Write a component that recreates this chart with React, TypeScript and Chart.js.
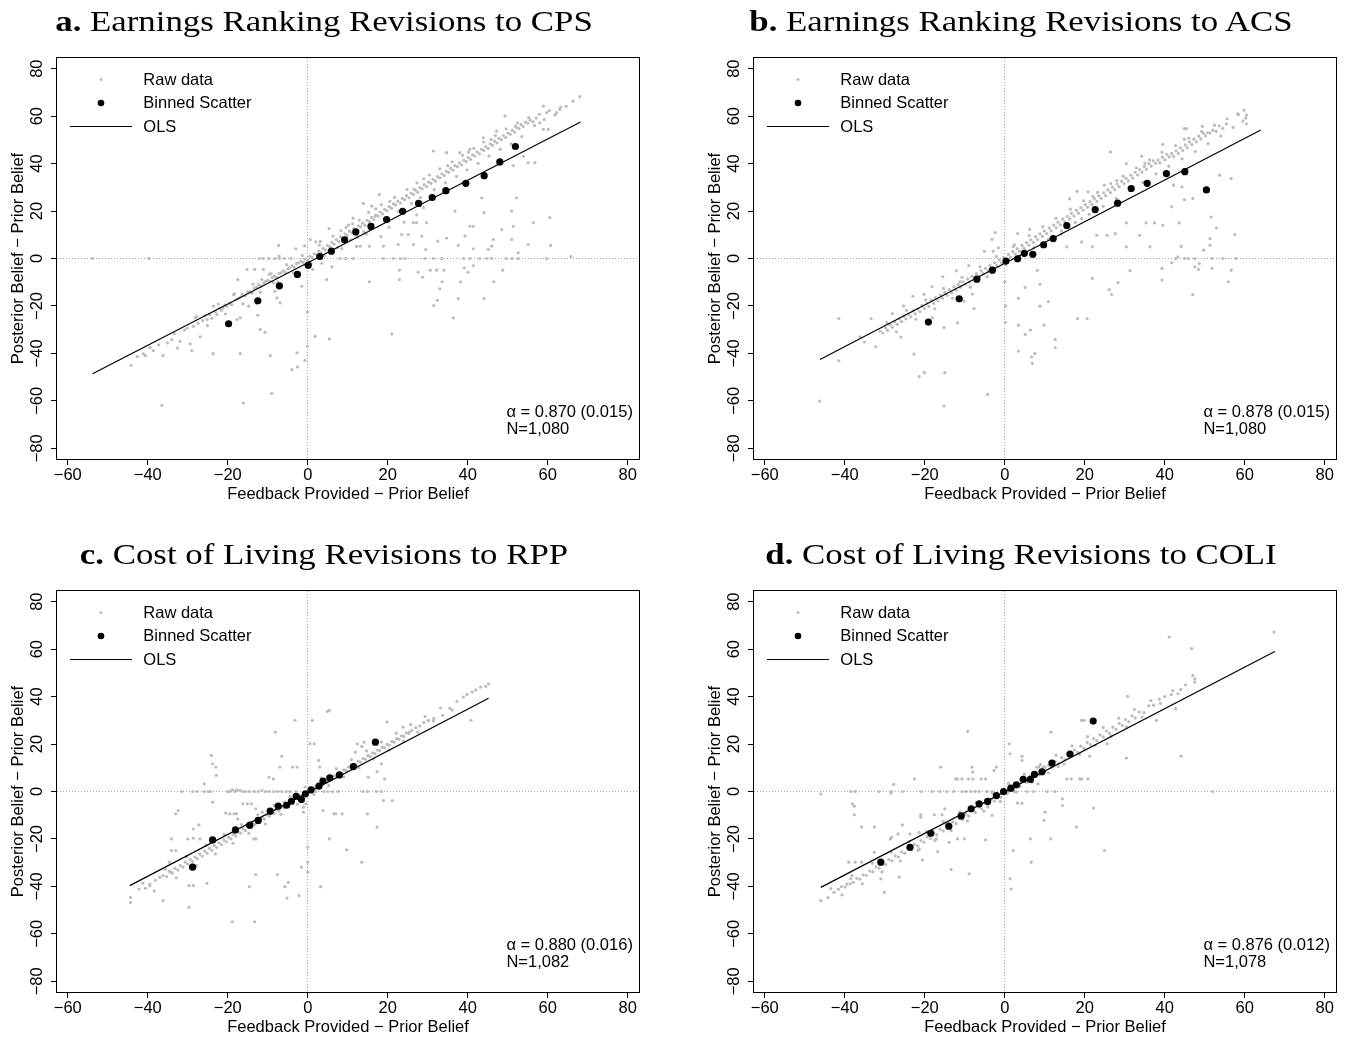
import React, { useEffect, useRef } from "react";
import { Chart, registerables } from "chart.js";

Chart.register(...registerables);

type Pt = [number, number];

// Axis ranges and tick positions (shared by all four panels)
const X_MIN = -62.7;
const X_MAX = 82.8;
const Y_MIN = -84.5;
const Y_MAX = 84.5;
const xTicks = [-60, -40, -20, 0, 20, 40, 60, 80];
const yTicks = [-80, -60, -40, -20, 0, 20, 40, 60, 80];

const xTitle = "Feedback Provided \u2212 Prior Belief";
const yTitle = "Posterior Belief \u2212 Prior Belief";
const legendLabels = ["Raw data", "Binned Scatter", "OLS"];

const panelLetters = ["a.", "b.", "c.", "d."];
const panelTitles = [
  "Earnings Ranking Revisions to CPS",
  "Earnings Ranking Revisions to ACS",
  "Cost of Living Revisions to RPP",
  "Cost of Living Revisions to COLI",
];
const alphas = [0.87, 0.878, 0.88, 0.876];
const alphaSE = ["0.015", "0.015", "0.016", "0.012"];
const sampleN = ["1,080", "1,080", "1,082", "1,078"];
const olsIntercepts = [-1.8, -2.0, -0.5, -0.1];
const olsXA = [-53.8, 68.2];
const olsXB = [-46.2, 64.0];
const olsXC = [-44.5, 45.2];
const olsXD = [-46.0, 67.5];

// ---- Panel a: earnings ranking, CPS ----
const binA: Pt[] = [
  [-19.8, -27.5], [-12.5, -17.8], [-7.1, -11.5], [-2.6, -6.7], [0.1, -2.8], [3.0, 0.8],
  [5.9, 3.1], [9.2, 7.9], [12.0, 11.2], [15.8, 13.5], [19.7, 16.4], [23.7, 19.9],
  [27.7, 23.2], [31.1, 25.7], [34.5, 28.6], [39.5, 31.7], [44.1, 34.9], [48.0, 40.7], [51.9, 47.2],
];
const rawA: Pt[] = [
  [-44.2, -45.1], [-42.6, -41.3], [-41.1, -40.2], [-40.6, -40.9], [-39.4, -37.6], [-38.6, -38.8], [-37.3, -36.4],
  [-36.2, -40.9], [-35.1, -35.6], [-34.0, -34.2], [-33.4, -31.7], [-32.6, -37.8], [-31.9, -34.9], [-30.8, -30.1],
  [-30.1, -29.3], [-29.4, -36.0], [-29.0, -38.8], [-28.6, -28.6], [-28.2, -25.0], [-27.4, -27.3], [-26.9, -33.0],
  [-26.3, -26.2], [-25.7, -24.1], [-25.2, -25.7], [-24.5, -23.6], [-24.0, -25.2], [-23.6, -20.1], [-23.1, -22.5],
  [-22.7, -23.6], [-22.1, -21.0], [-21.6, -21.9], [-21.2, -20.8], [-20.7, -19.6], [-20.2, -20.1], [-19.5, -18.9],
  [-19.0, -19.4], [-18.6, -15.2], [-18.0, -17.4], [-17.4, -16.9], [-16.8, -16.2], [-16.4, -15.0], [-15.7, -15.8],
  [-15.1, -14.1], [-14.5, -13.9], [-13.9, -14.6], [-13.4, -12.5], [-12.8, -12.2], [-12.3, -11.0], [-11.7, -11.7],
  [-11.0, -10.3], [-10.5, -9.6], [-10.0, -9.2], [-9.4, -9.7], [-8.9, -8.0], [-8.3, -7.4], [-7.8, -8.1], [-7.2, -6.4],
  [-6.7, -6.0], [-6.1, -5.2], [-5.6, -5.9], [-5.0, -4.4], [-4.5, -3.9], [-3.9, -3.1], [-3.4, -3.7], [-2.8, -2.2],
  [-2.3, -1.8], [-1.7, -1.1], [-1.2, -1.6], [-0.6, -0.3], [0.1, -0.7], [0.5, 0.9], [1.1, 0.4], [1.6, 2.0], [2.2, 1.5],
  [2.7, 3.1], [3.3, 2.4], [3.8, 4.3], [4.4, 3.6], [4.9, 5.5], [5.5, 5.0], [6.0, 6.8], [6.6, 6.1], [7.1, 8.0],
  [7.7, 7.2], [8.2, 9.1], [8.8, 8.5], [9.3, 10.4], [9.9, 9.6], [10.4, 11.5], [11.0, 10.8], [11.5, 12.6], [12.1, 12.0],
  [12.6, 13.8], [13.2, 13.3], [13.7, 14.9], [14.3, 14.0], [14.8, 16.1], [15.4, 15.5], [15.9, 17.3], [16.5, 16.4],
  [17.0, 18.3], [17.6, 17.9], [18.1, 19.6], [18.7, 18.8], [19.2, 20.7], [19.8, 20.1], [20.3, 21.9], [20.9, 21.2],
  [21.4, 23.0], [22.0, 22.6], [22.5, 24.2], [23.1, 23.4], [23.6, 25.3], [24.2, 24.8], [24.7, 26.5], [25.3, 25.6],
  [25.8, 27.6], [26.4, 27.0], [26.9, 28.8], [27.5, 27.9], [28.0, 29.9], [28.6, 29.4], [29.1, 31.1], [29.7, 30.3],
  [30.2, 32.2], [30.8, 31.7], [31.3, 33.4], [31.9, 32.6], [32.4, 34.5], [33.0, 34.0], [33.5, 35.7], [34.1, 34.9],
  [34.6, 36.8], [35.2, 36.3], [35.7, 38.0], [36.3, 37.2], [36.8, 39.1], [37.4, 38.7], [37.9, 40.3], [38.5, 39.5],
  [39.0, 41.4], [39.6, 40.9], [40.1, 42.6], [40.7, 41.8], [41.2, 43.7], [41.8, 43.2], [42.3, 44.9], [42.9, 44.1],
  [43.4, 46.0], [44.0, 45.5], [44.5, 47.2], [45.1, 46.4], [45.6, 48.3], [46.2, 47.8], [46.7, 49.5], [47.3, 48.7],
  [47.8, 50.6], [48.4, 50.1], [48.9, 51.8], [49.5, 51.0], [50.0, 52.9], [50.6, 52.4], [51.1, 54.1], [51.7, 53.3],
  [52.2, 55.2], [52.8, 54.7], [53.3, 56.4], [53.9, 55.6], [54.4, 57.5], [55.0, 57.0], [55.6, 58.3], [56.3, 57.6],
  [57.1, 59.2],
  [-27.8, -24.6], [-25.1, -28.3], [-22.4, -19.2], [-20.6, -23.4], [-18.3, -14.9], [-16.2, -19.1], [-13.7, -10.8],
  [-11.9, -14.2], [-9.2, -6.4], [-7.5, -9.9], [-5.3, -2.6], [-3.6, -6.1], [-1.4, 1.3], [0.8, -2.2], [2.9, 5.6],
  [4.1, 1.2], [6.3, 9.4], [7.4, 4.6], [9.6, 13.1], [10.7, 7.9], [12.9, 16.2], [14.0, 11.3], [15.2, 19.4], [16.1, 13.9],
  [18.4, 22.7], [19.3, 16.6], [21.7, 25.8], [22.6, 19.8], [24.8, 29.1], [25.9, 23.2], [27.3, 31.9], [28.2, 25.7],
  [30.4, 35.2], [31.6, 29.0], [33.0, 37.8], [34.4, 31.9], [36.1, 40.7], [37.2, 34.6], [38.7, 43.5], [39.8, 37.4],
  [41.5, 46.4], [42.6, 40.1], [44.0, 49.1], [45.3, 43.2], [46.9, 51.8], [48.1, 46.0], [49.6, 54.6], [50.8, 48.3],
  [52.4, 57.1], [53.5, 51.4], [55.2, 59.4], [56.7, 56.0], [57.9, 60.8], [59.1, 58.6], [60.4, 62.3], [61.8, 60.5],
  [63.2, 63.7], [64.6, 64.1], [26.5, 29.3], [29.0, 33.6], [35.0, 39.1], [40.2, 44.8], [45.8, 50.2], [51.9, 55.8],
  [20.5, 24.1], [17.0, 20.9], [8.3, 11.8], [11.2, 14.6],
  [-53.8, 0], [-39.8, 0], [-36.5, -61.9], [-23.7, -40.1], [-17.7, -25.7], [-16.9, -25.0], [-16.9, -40.1],
  [-16.1, -60.9], [-15.2, -4.6], [-13.3, -4.6], [-17.5, -8.9], [-14.8, -20.1], [-12.7, -19.0], [-12.5, -23.9],
  [-11.9, -29.9], [-10.7, -31.1], [-11.1, -4.6], [-9.6, -6.7], [-11.5, -8.9], [-8.6, -10.2], [-9.4, -40.9],
  [-9.0, -56.9], [-7.3, 5.5], [-7.2, 1.0], [-8.2, -13.8], [-6.9, -18.7], [-7.7, -16.6], [-4.0, -46.8], [-2.6, -45.7],
  [-2.7, -39.8], [-1.5, -11.7], [-0.1, -22.6], [-0.1, -37.0], [-0.7, -42.9], [1.8, -32.8], [5.4, -33.9], [4.7, -8.9],
  [1.2, -4.6], [-12.2, 0], [-11.2, 0], [-9.8, 0], [-8.3, 0], [-7.1, 0], [-5.8, 0], [-4.2, 0], [0.6, 8.0], [-0.8, 5.3],
  [2.0, 7.0], [3.5, -2.0], [6.0, -3.5], [8.0, 0], [9.5, 0], [11.4, 0], [15.4, 5.2], [18.9, 5.2], [22.6, 5.9],
  [23.5, 10.1], [25.1, 10.1], [26.4, 5.9], [28.5, 9.4], [29.5, 3.8], [32.5, 7.3], [34.7, 8.6], [37.6, 5.5], [39.3, 9.4],
  [41.4, 4.1], [45.1, 3.8], [46.0, 5.2], [46.4, 8.0], [48.5, 12.2], [51.0, 8.0], [52.6, 2.4], [55.1, 5.9], [60.7, 5.5],
  [18.9, 0], [21.4, 0], [23.1, 0], [24.3, 0], [29.3, 0], [31.4, 0], [33.5, 0], [38.9, 0], [40.5, 0], [43.0, 0],
  [44.7, 0], [46.0, 0], [49.7, 0], [51.0, 0], [52.6, 0], [59.7, 0], [65.8, 0.8],
  [15.4, -9.8], [22.9, -4.9], [22.9, -8.9], [27.6, -5.8], [28.7, -7.9], [30.6, -4.9], [32.2, -4.9], [34.0, -4.9],
  [33.6, -9.8], [33.0, -12.8], [32.4, -17.6], [31.5, -19.8], [36.4, -25.0], [37.6, -16.9], [38.2, -9.8], [40.1, -5.8],
  [39.1, -3.9], [41.4, -3.0], [44.1, -16.9], [46.5, -9.8], [48.7, -4.9], [21.0, -31.8],
  [51.0, 20.0], [51.4, 13.6], [52.2, 25.6], [56.4, 15.1], [60.5, 17.2], [44.1, 19.3], [43.5, 25.6], [41.4, 13.6],
  [40.5, 13.6], [36.8, 20.0], [29.7, 15.1], [28.9, 21.4], [27.2, 15.1], [26.4, 15.1], [17.9, 27.0], [13.9, 23.2],
  [16.0, 22.1], [16.8, 17.8], [31.4, 45.3], [34.7, 44.6], [38.0, 44.6], [40.5, 46.0], [43.9, 50.9], [47.2, 53.7],
  [49.3, 60.0], [53.9, 43.1], [55.1, 40.4], [56.8, 40.4], [51.4, 39.2], [58.9, 64.2], [59.7, 61.5], [62.2, 61.5],
  [63.0, 62.8], [66.3, 66.3], [68.0, 68.2], [58.9, 54.4], [60.1, 54.4], [58.0, 57.2], [10.2, 14.1], [11.3, 17.0],
  [12.4, 9.0], [13.1, 5.2], [5.3, 12.6], [3.1, 7.2], [-3.0, 4.1], [20.3, 13.2], [24.1, 15.3], [27.2, 18.4],
  [12.2, 5.1], [18.3, 9.2], [35.2, 28.1], [19.5, 17.0], [14.6, 10.3], [8.5, 4.2],
];

// ---- Panel b: earnings ranking, ACS ----
const binB: Pt[] = [
  [-19.1, -26.8], [-11.4, -17.0], [-7.0, -8.7], [-3.1, -4.9], [0.3, -1.1], [3.2, -0.1], [4.9, 2.2], [7.0, 1.8],
  [9.7, 5.8], [12.1, 8.4], [15.5, 13.9], [22.6, 20.6], [28.2, 23.3], [31.6, 29.5], [35.6, 31.7], [40.4, 35.8],
  [45.0, 36.6], [50.4, 28.9],
];
const rawB: Pt[] = [
  [-31.2, -30.6], [-30.5, -31.4], [-29.8, -29.2], [-29.3, -30.3], [-28.7, -27.9], [-28.1, -29.0], [-27.5, -26.8],
  [-26.9, -27.7], [-26.4, -25.5], [-25.8, -26.6], [-25.2, -24.3], [-24.7, -25.5], [-24.1, -23.4], [-23.5, -24.6],
  [-22.9, -22.1], [-22.4, -23.3], [-21.8, -21.2], [-21.2, -22.4], [-20.7, -19.9], [-20.1, -21.1], [-19.5, -18.8],
  [-19.0, -20.2], [-18.4, -17.6], [-17.8, -18.9], [-17.3, -16.5], [-16.7, -17.8], [-16.1, -15.4], [-15.6, -16.7],
  [-15.0, -14.3], [-14.4, -15.5], [-13.9, -13.1], [-13.3, -14.4], [-12.7, -12.0], [-12.2, -13.3], [-11.6, -10.9],
  [-11.0, -12.1], [-10.5, -9.8], [-9.9, -11.0], [-9.3, -8.6], [-8.8, -9.9], [-8.2, -7.5], [-7.6, -8.7], [-7.1, -6.4],
  [-6.5, -7.6], [-5.9, -5.2], [-5.4, -6.4], [-4.8, -4.1], [-4.2, -5.3], [-3.7, -2.9], [-3.1, -4.1], [-2.5, -1.8],
  [-2.0, -3.0], [-1.4, -0.6], [-0.8, -1.8], [-0.3, 0.5], [0.3, -0.6], [0.9, 1.7], [1.4, 0.6], [2.0, 3.0], [2.6, 1.9],
  [3.1, 4.2], [3.7, 3.1], [4.3, 5.5], [4.8, 4.3], [5.4, 6.7], [6.0, 5.6], [6.5, 7.9], [7.1, 6.8], [7.7, 9.2],
  [8.2, 8.0], [8.8, 10.4], [9.4, 9.3], [9.9, 11.6], [10.5, 10.5], [11.1, 12.9], [11.6, 11.7], [12.2, 14.1],
  [12.8, 13.0], [13.3, 15.3], [13.9, 14.2], [14.5, 16.6], [15.0, 15.4], [15.6, 17.8], [16.2, 16.7], [16.7, 19.0],
  [17.3, 17.9], [17.9, 20.3], [18.4, 19.1], [19.0, 21.5], [19.6, 20.4], [20.1, 22.7], [20.7, 21.6], [21.3, 24.0],
  [21.8, 22.8], [22.4, 25.2], [23.0, 24.1], [23.5, 26.4], [24.1, 25.3], [24.7, 27.7], [25.2, 26.5], [25.8, 28.9],
  [26.4, 27.8], [26.9, 30.1], [27.5, 29.0], [28.1, 31.4], [28.6, 30.2], [29.2, 32.6], [29.8, 31.5], [30.3, 33.8],
  [30.9, 32.7], [31.5, 35.1], [32.0, 33.9], [32.6, 36.3], [33.2, 35.2], [33.7, 37.5], [34.3, 36.4], [34.9, 38.8],
  [35.4, 37.6], [36.0, 40.0], [36.6, 38.9], [37.1, 41.2], [37.7, 40.1], [38.3, 41.5], [38.8, 40.3], [39.4, 42.7],
  [40.0, 41.6], [40.5, 43.9], [41.1, 42.8], [41.7, 44.2], [42.2, 43.0], [42.8, 45.4], [43.4, 44.3], [43.9, 46.6],
  [44.5, 45.5], [45.1, 47.9], [45.6, 46.7], [46.2, 49.1], [46.8, 48.0], [47.3, 50.3], [47.9, 49.2], [48.5, 51.6],
  [49.0, 50.4], [49.6, 52.8], [50.2, 51.7], [50.7, 53.0], [51.3, 52.9], [52.0, 54.1], [52.8, 53.6], [53.6, 55.9],
  [54.5, 54.8], [55.4, 56.7],
  [-29.5, -27.0], [-27.1, -30.9], [-24.6, -21.9], [-22.2, -25.6], [-19.8, -17.4], [-17.5, -21.2], [-15.3, -12.6],
  [-13.1, -16.8], [-10.7, -7.9], [-8.6, -12.1], [-6.2, -3.5], [-4.4, -7.6], [-2.1, 0.9], [0.2, -2.6], [2.4, 5.8],
  [3.8, 1.1], [6.1, 9.7], [7.3, 4.5], [9.5, 13.4], [10.9, 8.1], [12.8, 16.9], [14.2, 11.6], [16.4, 20.8], [17.6, 15.2],
  [19.7, 24.3], [21.1, 18.6], [23.2, 27.9], [24.6, 22.0], [26.5, 31.6], [27.9, 25.3], [29.6, 34.7], [31.2, 28.9],
  [32.9, 38.2], [34.5, 32.1], [36.2, 41.6], [37.8, 35.7], [39.3, 44.8], [41.0, 38.9], [42.7, 47.6], [44.3, 42.0],
  [46.0, 50.7], [47.6, 45.1], [49.2, 53.6], [50.8, 48.4], [52.4, 56.2], [54.0, 51.6], [55.6, 58.9], [57.1, 55.3],
  [58.4, 60.6], [59.5, 57.9], [60.2, 59.1], [22.0, 26.2], [28.0, 32.8], [35.0, 40.2], [44.9, 50.3],
  [-46.3, -60.1], [-41.5, -25.3], [-41.5, -43.1], [-33.4, -25.3], [-32.3, -37.2], [-28.1, -23.2], [-23.0, -15.9],
  [-22.7, -40.3], [-21.4, -49.8], [-20.1, -48.1], [-18.2, -11.9], [-15.5, -7.7], [-15.2, -29.1], [-15.0, -48.1],
  [-15.2, -62.2], [-11.8, -27.1], [-11.2, -9.8], [-7.7, -21.1], [-6.4, -8.0], [-4.3, -57.3], [-2.9, 3.1],
  [-2.4, 10.9], [-1.6, 4.5], [0, -9.8], [0.2, -20.0], [0.1, -27.0], [3.2, 10.5], [3.4, -16.8], [3.4, -28.1],
  [3.4, -39.0], [5.1, -12.2], [5.1, -32.0], [6.4, -30.2], [6.7, -41.4], [6.9, -44.2], [7.5, -40.0], [8.8, -10.9],
  [8.8, -20.1], [9.8, -28.1], [10.9, -18.2], [12.6, -34.1], [12.6, -37.5], [18.2, -25.3], [20.6, -25.3], [21.9, -8.4],
  [26.1, -13.1], [26.7, -15.2], [28.3, -10.2], [31.3, -5.1], [39.3, -9.1], [39.3, -4.2], [41.7, -1.8], [42.7, 0],
  [43.3, 0.7], [44.9, 0], [45.9, 0], [47.5, 0], [48.6, -2.1], [51.8, 0], [54.5, 0], [57.7, 0], [47.0, -15.2],
  [47.5, -3.5], [48.4, -4.6], [49.7, 3.5], [51.3, 5.6], [51.3, 8.4], [51.8, -4.2], [52.9, 12.9], [55.9, -9.8],
  [56.6, -4.9], [57.5, 10.1], [30.4, 15.0], [35.3, 15.0], [37.4, 15.0], [39.5, 14.0], [43.6, 15.0], [44.1, 5.1],
  [25.6, 9.8], [27.6, 10.5], [30.4, 4.9], [33.7, 9.8], [21.9, 4.9], [23.0, 9.8], [15.5, 4.9], [19.2, 7.0], [36.3, 4.9],
  [41.7, 21.8], [44.9, 24.8], [47.0, 25.3], [51.6, 17.5], [53.7, 35.1], [56.6, 33.7], [42.2, 30.9], [44.3, 30.2],
  [44.9, 54.7], [45.4, 54.7], [49.4, 55.7], [58.2, 61.0], [59.8, 62.5], [60.4, 60.4], [60.4, 56.8], [39.5, 48.1],
  [26.4, 44.9], [30.4, 40.0], [34.2, 43.1], [24.9, 30.9], [20.8, 28.1], [19.2, 16.8], [-9.0, -3.0], [-12.1, -5.2],
  [-5.1, 3.0], [-3.2, 8.1], [2.1, 5.0], [6.2, 12.3], [10.1, 5.2], [12.2, 8.1], [14.1, 10.2], [16.2, 25.1],
  [18.1, 28.3], [8.1, -5.0], [-20.2, -15.1], [-25.3, -20.0], [-35.1, -35.2], [-36.2, -33.0], [-26.0, -33.1],
  [-18.1, -25.0], [-10.2, -18.0], [-8.1, -15.0],
];

// ---- Panel c: cost of living, RPP ----
const binC: Pt[] = [
  [-28.8, -31.9], [-23.8, -20.4], [-18.1, -16.2], [-14.5, -14.2], [-12.4, -12.2], [-9.4, -8.3], [-7.4, -6.2],
  [-5.3, -5.8], [-4.1, -4.1], [-2.9, -2.0], [-1.6, -3.4], [-0.6, -1.0], [0.8, 0.7], [2.8, 2.3], [3.8, 4.4],
  [5.5, 5.8], [7.9, 7.0], [11.4, 10.5], [16.9, 20.8],
];
const rawC: Pt[] = [
  [-44.3, -44.6], [-44.3, -46.7], [-42.2, -41.1], [-40.6, -40.8], [-39.5, -39.0], [-39.5, -39.7], [-38.1, -37.4],
  [-37.0, -36.2], [-36.2, -35.4], [-35.3, -35.9], [-34.6, -33.7], [-33.9, -34.5], [-33.2, -32.4], [-32.5, -33.1],
  [-31.9, -31.2], [-31.2, -31.9], [-30.6, -29.8], [-30.0, -30.6], [-29.4, -28.7], [-28.8, -29.5], [-28.2, -27.6],
  [-27.6, -28.4], [-27.0, -26.3], [-26.4, -27.2], [-25.8, -25.1], [-25.2, -26.0], [-24.6, -23.9], [-24.0, -24.8],
  [-23.4, -22.8], [-22.8, -23.6], [-22.2, -21.6], [-21.6, -22.4], [-21.0, -20.4], [-20.4, -21.2], [-19.8, -19.3],
  [-19.2, -20.0], [-18.6, -18.1], [-18.0, -18.8], [-17.4, -16.9], [-16.8, -17.6], [-16.2, -15.8], [-15.6, -16.4],
  [-15.0, -14.6], [-14.4, -15.2], [-13.8, -13.4], [-13.2, -14.0], [-12.6, -12.2], [-12.0, -12.8], [-11.4, -11.1],
  [-10.8, -11.6], [-10.2, -9.9], [-9.6, -10.4], [-9.0, -8.7], [-8.4, -9.2], [-7.8, -7.6], [-7.2, -8.0], [-6.6, -6.4],
  [-6.0, -6.8], [-5.4, -5.2], [-4.8, -5.6], [-4.2, -4.1], [-3.6, -4.4], [-3.0, -2.9], [-2.4, -3.2], [-1.8, -1.7],
  [-1.2, -2.0], [-0.6, -0.5], [0.0, -0.8], [0.6, 0.7], [1.2, 0.4], [1.8, 1.9], [2.4, 1.6], [3.0, 3.1], [3.6, 2.8],
  [4.2, 4.3], [4.8, 4.0], [5.4, 5.5], [6.0, 5.2], [6.6, 6.7], [7.2, 6.4], [7.8, 7.9], [8.4, 7.6], [9.0, 9.1],
  [9.6, 8.8], [10.2, 10.3], [10.8, 10.0], [11.4, 11.5], [12.0, 11.2], [12.6, 12.7], [13.2, 12.4], [13.8, 13.9],
  [14.4, 13.6], [15.0, 15.1], [15.6, 14.8], [16.2, 16.3], [16.8, 16.0], [17.4, 17.5], [18.0, 17.2], [18.6, 18.7],
  [19.2, 18.4], [19.8, 19.9], [20.4, 19.6], [21.0, 21.1], [21.6, 20.8], [22.2, 22.3], [22.8, 22.0], [23.4, 23.5],
  [24.0, 23.2], [24.6, 24.7], [25.2, 24.4], [26.0, 25.8], [27.0, 26.9], [28.0, 27.6], [29.0, 29.1], [30.1, 30.0],
  [31.5, 30.8], [33.7, 32.1], [35.5, 35.0], [37.3, 38.0], [38.9, 39.8], [41.1, 41.9], [43.2, 44.0], [45.2, 45.4],
  [-41.3, -38.7], [-38.4, -41.9], [-35.6, -32.8], [-32.9, -36.4], [-30.3, -27.5], [-27.8, -31.2], [-25.5, -22.6],
  [-23.1, -26.3], [-20.9, -18.1], [-18.7, -21.8], [-16.6, -13.9], [-14.7, -17.6], [-12.5, -9.8], [-10.6, -13.7],
  [-8.4, -5.9], [-6.7, -9.6], [-4.5, -2.1], [-2.6, -5.4], [-0.7, 1.9], [1.5, -1.2], [3.3, 5.8], [5.2, 2.5], [7.1, 9.6],
  [9.0, 6.2], [10.9, 13.4], [12.8, 9.9], [14.7, 17.1], [16.5, 13.7], [18.4, 20.9], [20.3, 17.5], [22.1, 24.6],
  [23.9, 21.2], [25.7, 28.2], [27.5, 25.0], [29.3, 31.6], [31.4, 29.7], [33.2, 35.2], [36.1, 34.3], [39.8, 40.9],
  [42.0, 42.8], [44.5, 44.3],
  [-36.2, -46.0], [-34.6, -29.8], [-34.1, -34.0], [-34.1, -24.9], [-33.0, -24.9], [-34.1, -20.0], [-33.0, -9.4],
  [-32.4, -8.0], [-29.7, -39.7], [-28.6, -39.7], [-29.7, -48.8], [-30.0, -20.0], [-28.6, -19.7], [-27.0, -20.0],
  [-28.6, -15.8], [-27.2, -14.1], [-25.9, 3.2], [-24.1, 15.2], [-23.8, 11.7], [-23.0, 10.3], [-22.9, 6.8],
  [-23.8, -4.5], [-25.2, -38.7], [-20.5, -9.1], [-19.5, -9.4], [-18.4, -9.4], [-17.8, -9.4], [-17.5, -11.5],
  [-18.9, -54.9], [-13.3, -54.9], [-14.6, -40.1], [-13.0, -35.0], [-16.2, -5.2], [-15.1, -5.2], [-14.1, -5.2],
  [-13.0, -7.3], [-13.0, -20.0], [-13.5, -20.0], [-11.9, -11.5], [-11.4, -8.7], [-9.7, 6.0], [-8.6, 5.3],
  [-7.0, 10.3], [-8.1, 25.0], [-6.5, 14.9], [-5.9, -4.5], [-7.6, -35.0], [-4.9, -38.3], [-5.7, -40.1], [-5.2, -44.9],
  [-3.2, 30.0], [-3.8, 10.3], [-2.7, 10.3], [-1.1, -8.7], [-1.1, -6.6], [-0.5, -5.2], [-2.2, -43.9], [-1.6, -31.9],
  [0, -23.5], [0, -29.8], [0, -34.0], [1.1, 30.0], [0.5, 20.1], [1.6, 20.1], [2.7, 13.1], [3.0, 10.3], [3.2, -40.1],
  [3.8, -8.0], [6.5, -9.4], [7.0, -9.4], [8.6, -9.4], [5.4, -20.0], [4.9, 33.8], [5.4, 34.2], [9.7, -24.6],
  [12.4, 20.1], [11.9, 16.6], [13.5, -29.8], [14.9, -9.4], [15.1, 6.0], [17.3, 8.4], [17.3, -15.0], [14.1, 20.8],
  [13.5, 19.0], [18.4, 11.7], [19.2, 5.3], [18.9, -3.8], [21.1, -3.8], [19.8, 29.3], [30.1, 30.0], [40.8, 30.0],
  [23.8, 27.1], [25.4, 25.0],
  [-31.5, 0], [-28.8, 0], [-27.6, 0], [-25.9, 0], [-24.9, 0], [-24.3, 0], [-20.0, 0], [-19.5, 0], [-18.9, 0.7],
  [-18.3, 0], [-17.8, 0.7], [-17.0, 0.5], [-16.2, 0], [-15.5, 0], [-14.6, 0], [-13.4, 0], [-12.4, 0], [-11.5, 0.4],
  [-10.6, 0], [-9.7, 0], [-8.5, 0], [-7.6, 0], [-6.5, 0], [-5.4, 0], [-4.4, 0], [-3.0, 0], [2.0, 0], [4.0, 0],
  [5.0, 0], [6.2, 0], [7.5, 0], [13.8, 0], [14.9, 0], [17.1, 0], [18.4, 0],
];

// ---- Panel d: cost of living, COLI ----
const binD: Pt[] = [
  [-31.0, -29.8], [-23.7, -23.5], [-18.5, -17.6], [-14.0, -14.6], [-10.9, -10.3], [-8.4, -7.3], [-6.4, -5.2],
  [-4.3, -4.2], [-2.1, -1.7], [-0.3, 0], [1.5, 1.4], [2.9, 2.8], [4.6, 5.1], [6.4, 5.1], [7.4, 7.2], [9.3, 8.3],
  [11.8, 12.0], [16.3, 15.8], [22.1, 29.7],
];
const rawD: Pt[] = [
  [-46.0, -46.0], [-42.7, -42.5], [-41.6, -41.2], [-40.8, -40.1], [-39.9, -40.3], [-39.5, -39.0], [-38.7, -38.9],
  [-37.9, -38.3], [-37.0, -36.6], [-36.2, -36.9], [-35.4, -35.1], [-34.6, -35.4], [-33.8, -33.5], [-33.0, -33.9],
  [-32.2, -31.8], [-31.4, -32.3], [-30.6, -30.2], [-29.8, -30.8], [-29.0, -28.7], [-28.2, -29.2], [-27.4, -27.1],
  [-26.6, -27.6], [-25.8, -25.5], [-25.0, -26.0], [-24.2, -23.9], [-23.4, -24.5], [-22.6, -22.3], [-21.8, -22.9],
  [-21.0, -20.7], [-20.2, -21.3], [-19.4, -19.1], [-18.6, -19.8], [-17.8, -17.5], [-17.0, -18.2], [-16.2, -15.9],
  [-15.4, -16.6], [-14.6, -14.4], [-13.8, -15.0], [-13.0, -12.8], [-12.2, -13.5], [-11.4, -11.2], [-10.6, -11.9],
  [-9.8, -9.6], [-9.0, -10.3], [-8.2, -8.0], [-7.4, -8.8], [-6.6, -6.5], [-5.8, -7.2], [-5.0, -4.9], [-4.2, -5.6],
  [-3.4, -3.3], [-2.6, -4.1], [-1.8, -1.7], [-1.0, -2.5], [-0.2, -0.1], [0.6, -0.9], [1.4, 1.5], [2.2, 0.7],
  [3.0, 3.1], [3.8, 2.2], [4.6, 4.7], [5.4, 3.8], [6.2, 6.3], [7.0, 5.4], [7.8, 7.9], [8.6, 7.0], [9.4, 9.5],
  [10.2, 8.6], [11.0, 11.1], [11.8, 10.2], [12.6, 12.7], [13.4, 11.8], [14.2, 14.3], [15.0, 13.4], [15.8, 15.9],
  [16.6, 15.0], [17.4, 17.5], [18.2, 16.6], [19.0, 19.1], [19.8, 18.2], [20.6, 20.7], [21.4, 19.8], [22.2, 22.3],
  [23.0, 21.4], [23.8, 23.9], [24.6, 23.0], [25.4, 25.5], [26.2, 24.6], [27.0, 27.1], [27.8, 26.2], [28.6, 28.7],
  [29.4, 27.8], [30.2, 30.3], [31.0, 29.4], [31.8, 31.9], [32.6, 31.0], [33.6, 33.5], [34.8, 33.2], [36.0, 36.1],
  [37.2, 36.4], [38.6, 38.9], [40.0, 40.0], [42.0, 42.5], [44.0, 43.0],
  [-44.2, -44.7], [-43.5, -40.9], [-40.7, -43.6], [-38.2, -35.4], [-35.6, -38.9], [-33.1, -30.2], [-30.7, -33.9],
  [-28.4, -25.6], [-26.1, -29.3], [-23.9, -21.1], [-21.7, -24.8], [-19.6, -16.8], [-17.5, -20.6], [-15.4, -12.7],
  [-13.4, -16.5], [-11.3, -8.6], [-9.3, -12.4], [-7.2, -4.7], [-5.2, -8.3], [-3.1, -0.6], [-1.1, -4.2], [0.9, 3.4],
  [2.9, -0.2], [4.9, 7.3], [6.9, 3.9], [8.9, 11.4], [10.9, 7.8], [12.8, 15.3], [14.8, 11.6], [16.8, 19.2],
  [18.7, 15.5], [20.7, 23.1], [22.6, 19.4], [24.6, 27.0], [26.5, 23.3], [28.5, 30.9], [30.4, 27.2], [32.4, 34.6],
  [34.3, 31.4], [36.5, 38.3], [38.9, 37.1], [41.6, 40.8], [45.2, 44.9],
  [-46.0, -1.0], [-38.5, -36.8], [-39.0, -29.8], [-37.4, -29.8], [-35.8, -29.8], [-38.1, -5.2], [-37.6, -6.2],
  [-37.6, -9.8], [-35.8, -15.0], [-32.6, -15.0], [-32.6, -25.6], [-30.1, -42.5], [-31.0, -36.8], [-28.6, -20.0],
  [-28.3, -19.3], [-25.6, -14.1], [-26.7, -17.9], [-28.5, -0.7], [-27.8, 3.0], [-26.4, -36.1], [-23.7, -17.9],
  [-21.4, -17.2], [-21.4, -24.2], [-22.6, 5.3], [-21.0, -9.8], [-21.0, -10.8], [-20.6, -28.8], [-17.6, -9.8],
  [-17.1, -20.0], [-16.8, -25.3], [-16.0, 10.3], [-15.7, -9.8], [-15.0, -7.3], [-13.4, -32.9], [-13.9, -21.4],
  [-11.8, -20.0], [-12.3, 5.3], [-11.8, 5.3], [-10.7, 5.3], [-9.1, 5.3], [-8.0, 5.3], [-5.9, 5.3], [-4.8, 5.3],
  [-9.3, 25.3], [-8.2, 10.3], [-8.0, 8.2], [-8.9, -34.7], [-10.1, -20.0], [-4.8, -20.4], [-4.3, -6.6],
  [-3.2, -10.1], [-2.7, 8.9], [-2.1, 10.3], [1.1, 20.1], [1.3, 15.9], [1.3, -36.8], [1.6, -41.1], [2.1, -24.9],
  [3.2, -4.9], [4.3, -4.9], [4.3, 14.9], [4.3, 13.1], [6.4, -20.0], [6.6, -29.8], [8.3, 3.2], [8.0, 10.3],
  [8.5, 10.3], [9.6, 10.3], [10.1, 10.3], [9.8, -12.2], [10.1, -8.7], [11.5, 25.0], [11.5, -20.0], [13.4, 10.5],
  [14.4, -3.1], [14.4, -5.9], [17.9, -15.0], [15.5, 5.3], [16.6, 5.3], [18.7, 5.3], [19.2, 5.3], [20.8, 5.3],
  [21.2, 14.9], [19.2, 30.0], [19.8, 30.0], [22.2, -7.0], [24.9, -24.9], [25.6, 20.1], [30.7, 40.1], [30.4, 14.1],
  [37.9, 30.0], [41.1, 65.1], [42.7, 34.9], [43.3, 41.2], [44.1, 14.9], [46.7, 60.2], [47.0, 48.9], [47.5, 47.5],
  [47.5, 46.1], [52.0, 0], [67.3, 67.2],
  [-38.5, 0], [-37.4, 0], [-31.5, 0], [-28.3, 0], [-25.6, 0], [-20.8, 0], [-18.2, 0], [-12.8, 0], [-10.7, 0],
  [-8.5, 0], [-6.4, 0], [-4.5, 0], [-14.5, 0], [-16.2, 0], [-9.6, 0], [-7.4, 0], [-3.2, 0], [1.0, 0], [2.4, 0],
  [5.6, 0], [7.2, 0], [10.6, 0], [12.5, 0],
];

const FONT_SANS = '"Liberation Sans", Arial, Helvetica, sans-serif';
const FONT_SERIF = '"Liberation Serif", "Times New Roman", serif';
const FS = 16.5;
const RAW_COLOR = "#bcbcbc";
const ZERO_COLOR = "#a6a6a6";

const PANEL_W = 654;
const PANEL_H = 505;

const fmt = (v: number) => (v < 0 ? "\u2212" + Math.abs(v) : String(v));
const toXY = (pts: Pt[]) => pts.map(([x, y]) => ({ x, y }));

interface PanelSpec {
  letter: string;
  title: string;
  raw: Pt[];
  bin: Pt[];
  olsX: number[];
  alpha: number;
  intercept: number;
  se: string;
  n: string;
  left: number;
  top: number;
}

const panels: PanelSpec[] = [
  { letter: panelLetters[0], title: panelTitles[0], raw: rawA, bin: binA, olsX: olsXA, alpha: alphas[0], intercept: olsIntercepts[0], se: alphaSE[0], n: sampleN[0], left: 0, top: 0 },
  { letter: panelLetters[1], title: panelTitles[1], raw: rawB, bin: binB, olsX: olsXB, alpha: alphas[1], intercept: olsIntercepts[1], se: alphaSE[1], n: sampleN[1], left: 697, top: 0 },
  { letter: panelLetters[2], title: panelTitles[2], raw: rawC, bin: binC, olsX: olsXC, alpha: alphas[2], intercept: olsIntercepts[2], se: alphaSE[2], n: sampleN[2], left: 0, top: 533 },
  { letter: panelLetters[3], title: panelTitles[3], raw: rawD, bin: binD, olsX: olsXD, alpha: alphas[3], intercept: olsIntercepts[3], se: alphaSE[3], n: sampleN[3], left: 697, top: 533 },
];

// Frame, in-plot legend and coefficient note
const framePlugin = {
  id: "frame",
  afterDraw(chart: any, _args: any, opts: any) {
    const { ctx, chartArea: a } = chart;
    ctx.save();
    ctx.strokeStyle = "#000";
    ctx.lineWidth = 1;
    ctx.strokeRect(a.left - 0.5, a.top - 0.5, a.right - a.left + 1, a.bottom - a.top + 1);

    const L = a.left;
    const T = a.top;
    ctx.font = `${FS}px ${FONT_SANS}`;
    ctx.textBaseline = "middle";
    ctx.textAlign = "left";

    // legend entries
    ctx.beginPath();
    ctx.fillStyle = RAW_COLOR;
    ctx.arc(L + 44, T + 21.5, 1.5, 0, Math.PI * 2);
    ctx.fill();
    ctx.beginPath();
    ctx.fillStyle = "#000";
    ctx.arc(L + 44, T + 45, 3.3, 0, Math.PI * 2);
    ctx.fill();
    ctx.beginPath();
    ctx.strokeStyle = "#000";
    ctx.lineWidth = 1.2;
    ctx.moveTo(L + 13, T + 68.5);
    ctx.lineTo(L + 75, T + 68.5);
    ctx.stroke();
    ctx.fillText(legendLabels[0], L + 86.3, T + 22);
    ctx.fillText(legendLabels[1], L + 86.3, T + 45.5);
    ctx.fillText(legendLabels[2], L + 86.3, T + 69);

    // coefficient note
    const nx = a.right - 132.6;
    ctx.fillText(opts.line1, nx, a.bottom - 46.3);
    ctx.fillText(opts.line2, nx, a.bottom - 29.7);
    ctx.restore();
  },
};

function buildConfig(p: PanelSpec): any {
  const font = { family: FONT_SANS, size: FS };
  const zeroGrid = (c: any) => (c.tick && c.tick.value === 0 ? ZERO_COLOR : "rgba(0,0,0,0)");
  const olsPts = p.olsX.map((x) => ({ x, y: p.intercept + p.alpha * x }));
  return {
    type: "scatter",
    data: {
      datasets: [
        {
          label: legendLabels[1],
          data: toXY(p.bin),
          pointRadius: 3.6,
          pointBackgroundColor: "#000",
          pointBorderWidth: 0,
          order: 0,
        },
        {
          label: legendLabels[2],
          data: olsPts,
          showLine: true,
          borderColor: "#000",
          borderWidth: 1.2,
          pointRadius: 0,
          order: 1,
        },
        {
          label: legendLabels[0],
          data: toXY(p.raw),
          pointRadius: 1.6,
          pointBackgroundColor: RAW_COLOR,
          pointBorderWidth: 0,
          order: 2,
        },
      ],
    },
    options: {
      responsive: false,
      animation: false,
      events: [],
      layout: { padding: { left: 0, top: 58, right: 15, bottom: 0 } },
      plugins: {
        legend: { display: false },
        tooltip: { enabled: false },
        frame: {
          line1: `\u03b1 = ${p.alpha.toFixed(3)} (${p.se})`,
          line2: `N=${p.n}`,
        },
      },
      scales: {
        x: {
          type: "linear",
          position: "bottom",
          min: X_MIN,
          max: X_MAX,
          bounds: "data",
          afterBuildTicks: (s: any) => {
            s.ticks = xTicks.map((value) => ({ value }));
          },
          afterFit: (s: any) => {
            s.height = 46;
          },
          ticks: {
            font,
            color: "#000",
            padding: 1,
            maxRotation: 0,
            minRotation: 0,
            autoSkip: false,
            callback: (v: number) => fmt(v),
          },
          grid: {
            color: zeroGrid,
            lineWidth: 1,
            drawTicks: true,
            tickLength: 6,
            tickColor: "#000",
            tickWidth: 1,
          },
          border: { display: false, dash: [1, 2] },
          title: {
            display: true,
            text: xTitle,
            font,
            color: "#000",
            padding: { top: 0, bottom: 1 },
          },
        },
        y: {
          type: "linear",
          position: "left",
          min: Y_MIN,
          max: Y_MAX,
          bounds: "data",
          afterBuildTicks: (s: any) => {
            s.ticks = yTicks.map((value) => ({ value }));
          },
          afterFit: (s: any) => {
            s.width = 57;
          },
          ticks: {
            font,
            color: "#000",
            padding: 0,
            minRotation: 90,
            maxRotation: 90,
            crossAlign: "center",
            autoSkip: false,
            callback: (v: number) => fmt(v),
          },
          grid: {
            color: zeroGrid,
            lineWidth: 1,
            drawTicks: true,
            tickLength: 6,
            tickColor: "#000",
            tickWidth: 1,
          },
          border: { display: false, dash: [1, 2] },
          title: {
            display: true,
            text: yTitle,
            font,
            color: "#000",
            padding: { top: 9, bottom: 0 },
          },
        },
      },
    },
    plugins: [framePlugin],
  };
}

function Panel({ spec }: { spec: PanelSpec }) {
  const ref = useRef<HTMLCanvasElement>(null);
  useEffect(() => {
    if (!ref.current) return;
    const chart = new Chart(ref.current, buildConfig(spec));
    return () => chart.destroy();
  }, [spec]);
  return (
    <div style={{ position: "absolute", left: spec.left, top: spec.top, width: PANEL_W, height: PANEL_H }}>
      <canvas ref={ref} width={PANEL_W} height={PANEL_H} style={{ position: "absolute", left: 0, top: 0 }} />
      <div
        style={{
          position: "absolute",
          left: 324 - 400,
          top: 4,
          width: 800,
          textAlign: "center",
          fontFamily: FONT_SERIF,
          fontSize: 29,
          lineHeight: "34px",
          whiteSpace: "nowrap",
          color: "#000",
          transform: "scaleX(1.2)",
          transformOrigin: "50% 50%",
        }}
      >
        <b>{spec.letter}</b> {spec.title}
      </div>
    </div>
  );
}

export default function App() {
  return (
    <div style={{ position: "absolute", left: 0, top: 0, width: 1351, height: 1038, background: "#fff", overflow: "hidden" }}>
      {panels.map((p) => (
        <Panel key={p.letter} spec={p} />
      ))}
    </div>
  );
}
